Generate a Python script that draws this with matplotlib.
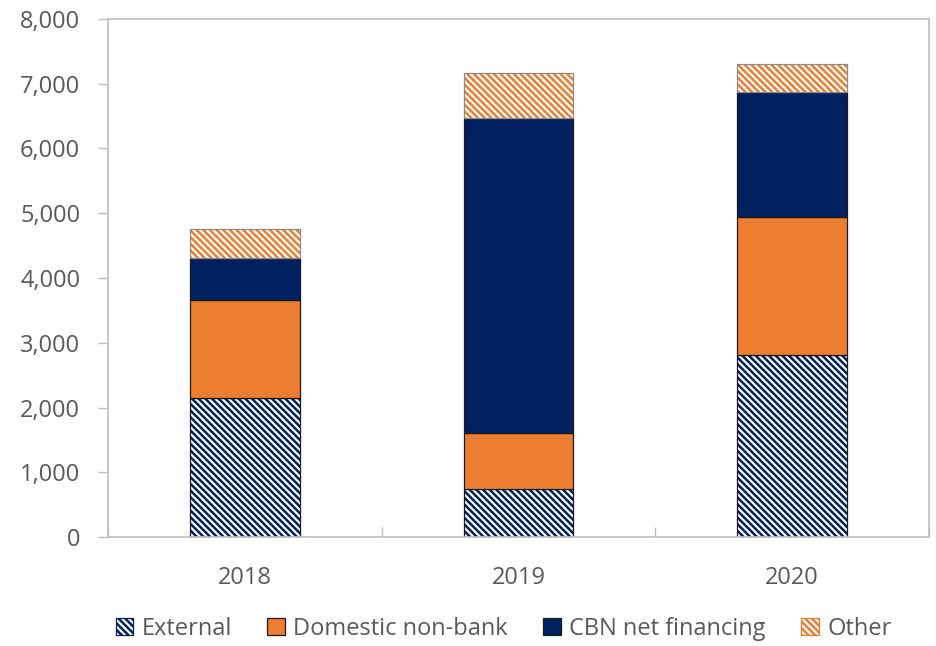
import matplotlib
matplotlib.use("Agg")
import matplotlib.pyplot as plt
import numpy as np
from matplotlib.ticker import FuncFormatter, MultipleLocator

years = ["2018", "2019", "2020"]
external = [2150, 740, 2810]
domestic_non_bank = [1510, 866, 2132]
cbn_net_financing = [650, 4864, 1931]
other = [447, 696, 432]

NAVY = "#002060"
ORANGE = "#ED7D31"
TEXT = "#595959"
SPINE = "#BFBFBF"

plt.rcParams["font.family"] = ["Open Sans", "DejaVu Sans"]
plt.rcParams["hatch.linewidth"] = 1.8

fig = plt.figure(figsize=(9.36, 6.46), dpi=100)
ax = fig.add_axes([0.1154, 0.1687, 0.8771, 0.8019])

x = np.arange(len(years))
w = 0.40

b0 = np.zeros(len(years))
b1 = b0 + np.array(external)
b2 = b1 + np.array(domestic_non_bank)
b3 = b2 + np.array(cbn_net_financing)

h_ext = ax.bar(x, external, w, bottom=b0, color="white", edgecolor=NAVY,
               hatch="\\\\\\\\\\", linewidth=0, label="External")
ax.bar(x, external, w, bottom=b0, fill=False, edgecolor="#1a1a1a", linewidth=0.9)
h_dom = ax.bar(x, domestic_non_bank, w, bottom=b1, color=ORANGE,
               edgecolor="#1a1a1a", linewidth=0.9, label="Domestic non-bank")
h_cbn = ax.bar(x, cbn_net_financing, w, bottom=b2, color=NAVY,
               edgecolor="#1a1a1a", linewidth=0.9, label="CBN net financing")
h_oth = ax.bar(x, other, w, bottom=b3, color="white", edgecolor=ORANGE,
               hatch="\\\\\\\\\\", linewidth=0, label="Other")
ax.bar(x, other, w, bottom=b3, fill=False, edgecolor="#8c8c8c", linewidth=0.9)

ax.set_xlim(-0.5, len(years) - 0.5)
ax.set_ylim(0, 8000)
ax.yaxis.set_major_locator(MultipleLocator(1000))
ax.yaxis.set_major_formatter(FuncFormatter(lambda v, p: f"{int(v):,}"))

ax.set_xticks(x)
ax.set_xticklabels(years)
ax.set_xticks(np.arange(len(years) + 1) - 0.5, minor=True)
ax.tick_params(axis="x", which="major", length=0, pad=21, labelsize=17, labelcolor=TEXT)
ax.tick_params(axis="x", which="minor", direction="in", length=7, color=SPINE, width=1)
ax.tick_params(axis="y", which="major", direction="out", length=7, color=SPINE,
               width=1, labelsize=17, labelcolor=TEXT, pad=13)

for s in ax.spines.values():
    s.set_color(SPINE)
    s.set_linewidth(1.2)

handles = [h_ext, h_dom, h_cbn, h_oth]
leg = fig.legend(handles, [h.get_label() for h in handles], loc="center",
                 bbox_to_anchor=(0.538, 0.027), ncol=4, frameon=False,
                 fontsize=17, handlelength=0.75, handleheight=0.75,
                 handletextpad=0.35, columnspacing=1.5)
for t in leg.get_texts():
    t.set_color(TEXT)
for p in leg.get_patches():
    p.set_linewidth(0.9)

fig.savefig("out.png", dpi=100)
